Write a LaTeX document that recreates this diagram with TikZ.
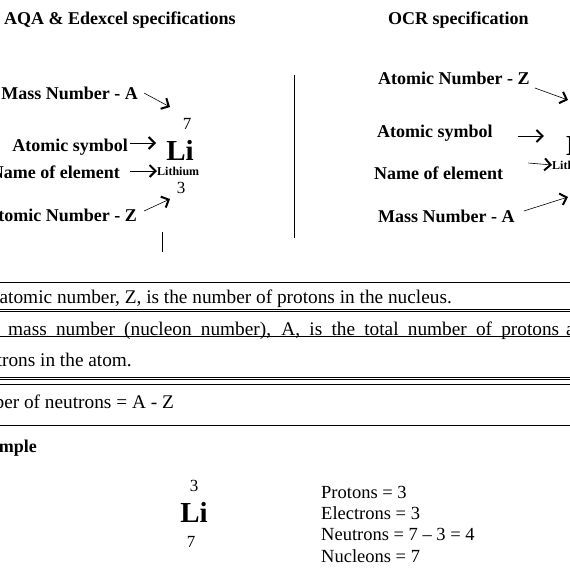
\documentclass[tikz,border=0pt]{standalone}
\usepackage{fontspec}
\setmainfont{Liberation Serif}
\usetikzlibrary{arrows.meta}
\newcommand\lblfont{\fontsize{18}{21}\selectfont\bfseries}
\newcommand\bodyfont{\fontsize{19.3}{22}\selectfont}
\tikzset{
  lbl/.style={font=\lblfont,inner sep=0pt},
  body/.style={font=\bodyfont,inner sep=0pt},
  list/.style={font=\fontsize{18.5}{21}\selectfont,inner sep=0pt},
  num/.style={font=\fontsize{17}{19}\selectfont,inner sep=0pt},
  elem/.style={font=\fontsize{29}{32}\selectfont\bfseries,inner sep=0pt},
  small/.style={font=\fontsize{12}{14}\selectfont\bfseries,inner sep=0pt},
  arr/.style={line width=0.6pt,-{Straight Barb[length=6pt,width=12pt,line width=2pt]}},
  rule/.style={line width=0.8pt}
}
\begin{document}
\begin{tikzpicture}[x=1pt,y=-1pt]
\useasboundingbox (0,0) rectangle (570,570);
\clip (0,0) rectangle (570,570);
\node[lbl,anchor=west] (aqa) at (4,20) {AQA \& Edexcel specifications};
\node[lbl,anchor=west] (ocr) at (388,20) {OCR specification};
\node[lbl,anchor=east] (massL) at (138,93) {Mass Number - A};
\node[lbl,anchor=east] (symL) at (128,147) {Atomic symbol};
\node[lbl,anchor=east] (nameL) at (120,172) {Name of element};
\node[lbl,anchor=east] (atnoL) at (137,215) {Atomic Number - Z};
\node[num] (massnoL) at (187,124) {7};
\node[elem] (liL) at (180,150) {Li};
\node[small,anchor=west] (lithL) at (157,171) {Lithium};
\node[num] (atnoNumL) at (181,188) {3};
\coordinate (massTipL) at (170,107); \coordinate (atnoTipL) at (170,199);
\draw[arr] ([xshift=6pt]massL.east) -- (massTipL);
\draw[arr] ([xshift=2pt,yshift=4pt]symL.east) -- ++(26,0);
\draw[arr] ([xshift=10pt,yshift=1pt]nameL.east) -- (lithL.west);
\draw[arr] ([xshift=7pt,yshift=4pt]atnoL.east) -- (atnoTipL);
\draw (162,232) -- (162,252);
\draw (294,75) -- (294,238);
\node[lbl,anchor=west] (atnoR) at (378,78) {Atomic Number - Z};
\node[lbl,anchor=west] (symR) at (377,133) {Atomic symbol};
\node[lbl,anchor=west] (nameR) at (374,173) {Name of element};
\node[lbl,anchor=west] (massR) at (378,216) {Mass Number - A};
\node[elem,anchor=west] (liR) at (566,145) {Li};
\node[small,anchor=west] (lithR) at (552,165) {Lithium};
\coordinate (atnoTipR) at (568,100); \coordinate (massTipR) at (568,197);
\draw[arr] ([xshift=5pt,yshift=-10pt]atnoR.east) -- (atnoTipR);
\draw[arr] ([xshift=25pt,yshift=-3pt]symR.east) -- ++(26,0);
\draw[arr] ([xshift=25pt,yshift=10pt]nameR.east) -- (lithR.west);
\draw[arr] ([xshift=9pt,yshift=5pt]massR.east) -- (massTipR);
\draw[rule] (0,282) -- (570,282);
\draw[rule] (0,309) -- (570,309); \draw[rule] (0,311) -- (570,311);
\draw[rule] (0,336) -- (570,336);
\draw[rule] (0,377) -- (570,377); \draw[rule] (0,379) -- (570,379);
\draw[rule] (0,384) -- (570,384);
\draw[rule] (0,425) -- (570,425);
\node[body,anchor=base east] (atnoTxt) at (452,303) {atomic number, Z, is the number of protons in the nucleus.};
\node[body,anchor=base west] (massTxt) at (8,335) {\makebox[551pt][s]{mass number (nucleon number), A, is the total number of protons}};
\node[body,anchor=base west] (andTxt) at (566,335) {and};
\node[body,anchor=base east] (atomTxt) at (132,366) {neutrons in the atom.};
\node[body,anchor=base east] (neutTxt) at (174,408) {Number of neutrons = A - Z};
\node[lbl,anchor=base east] (exTxt) at (37,452) {Example};
\node[num] (atnoNum) at (194,486) {3};
\node[elem] (liEx) at (194,512) {Li};
\node[num] (massno) at (191,542) {7};
\node[list,anchor=base west] (prot) at (321,498) {Protons = 3};
\node[list,anchor=base west] (elec) at (321,519) {Electrons = 3};
\node[list,anchor=base west] (neut) at (321,540) {Neutrons = 7 -- 3 = 4};
\node[list,anchor=base west] (nucl) at (321,562) {Nucleons = 7};
\end{tikzpicture}
\end{document}
